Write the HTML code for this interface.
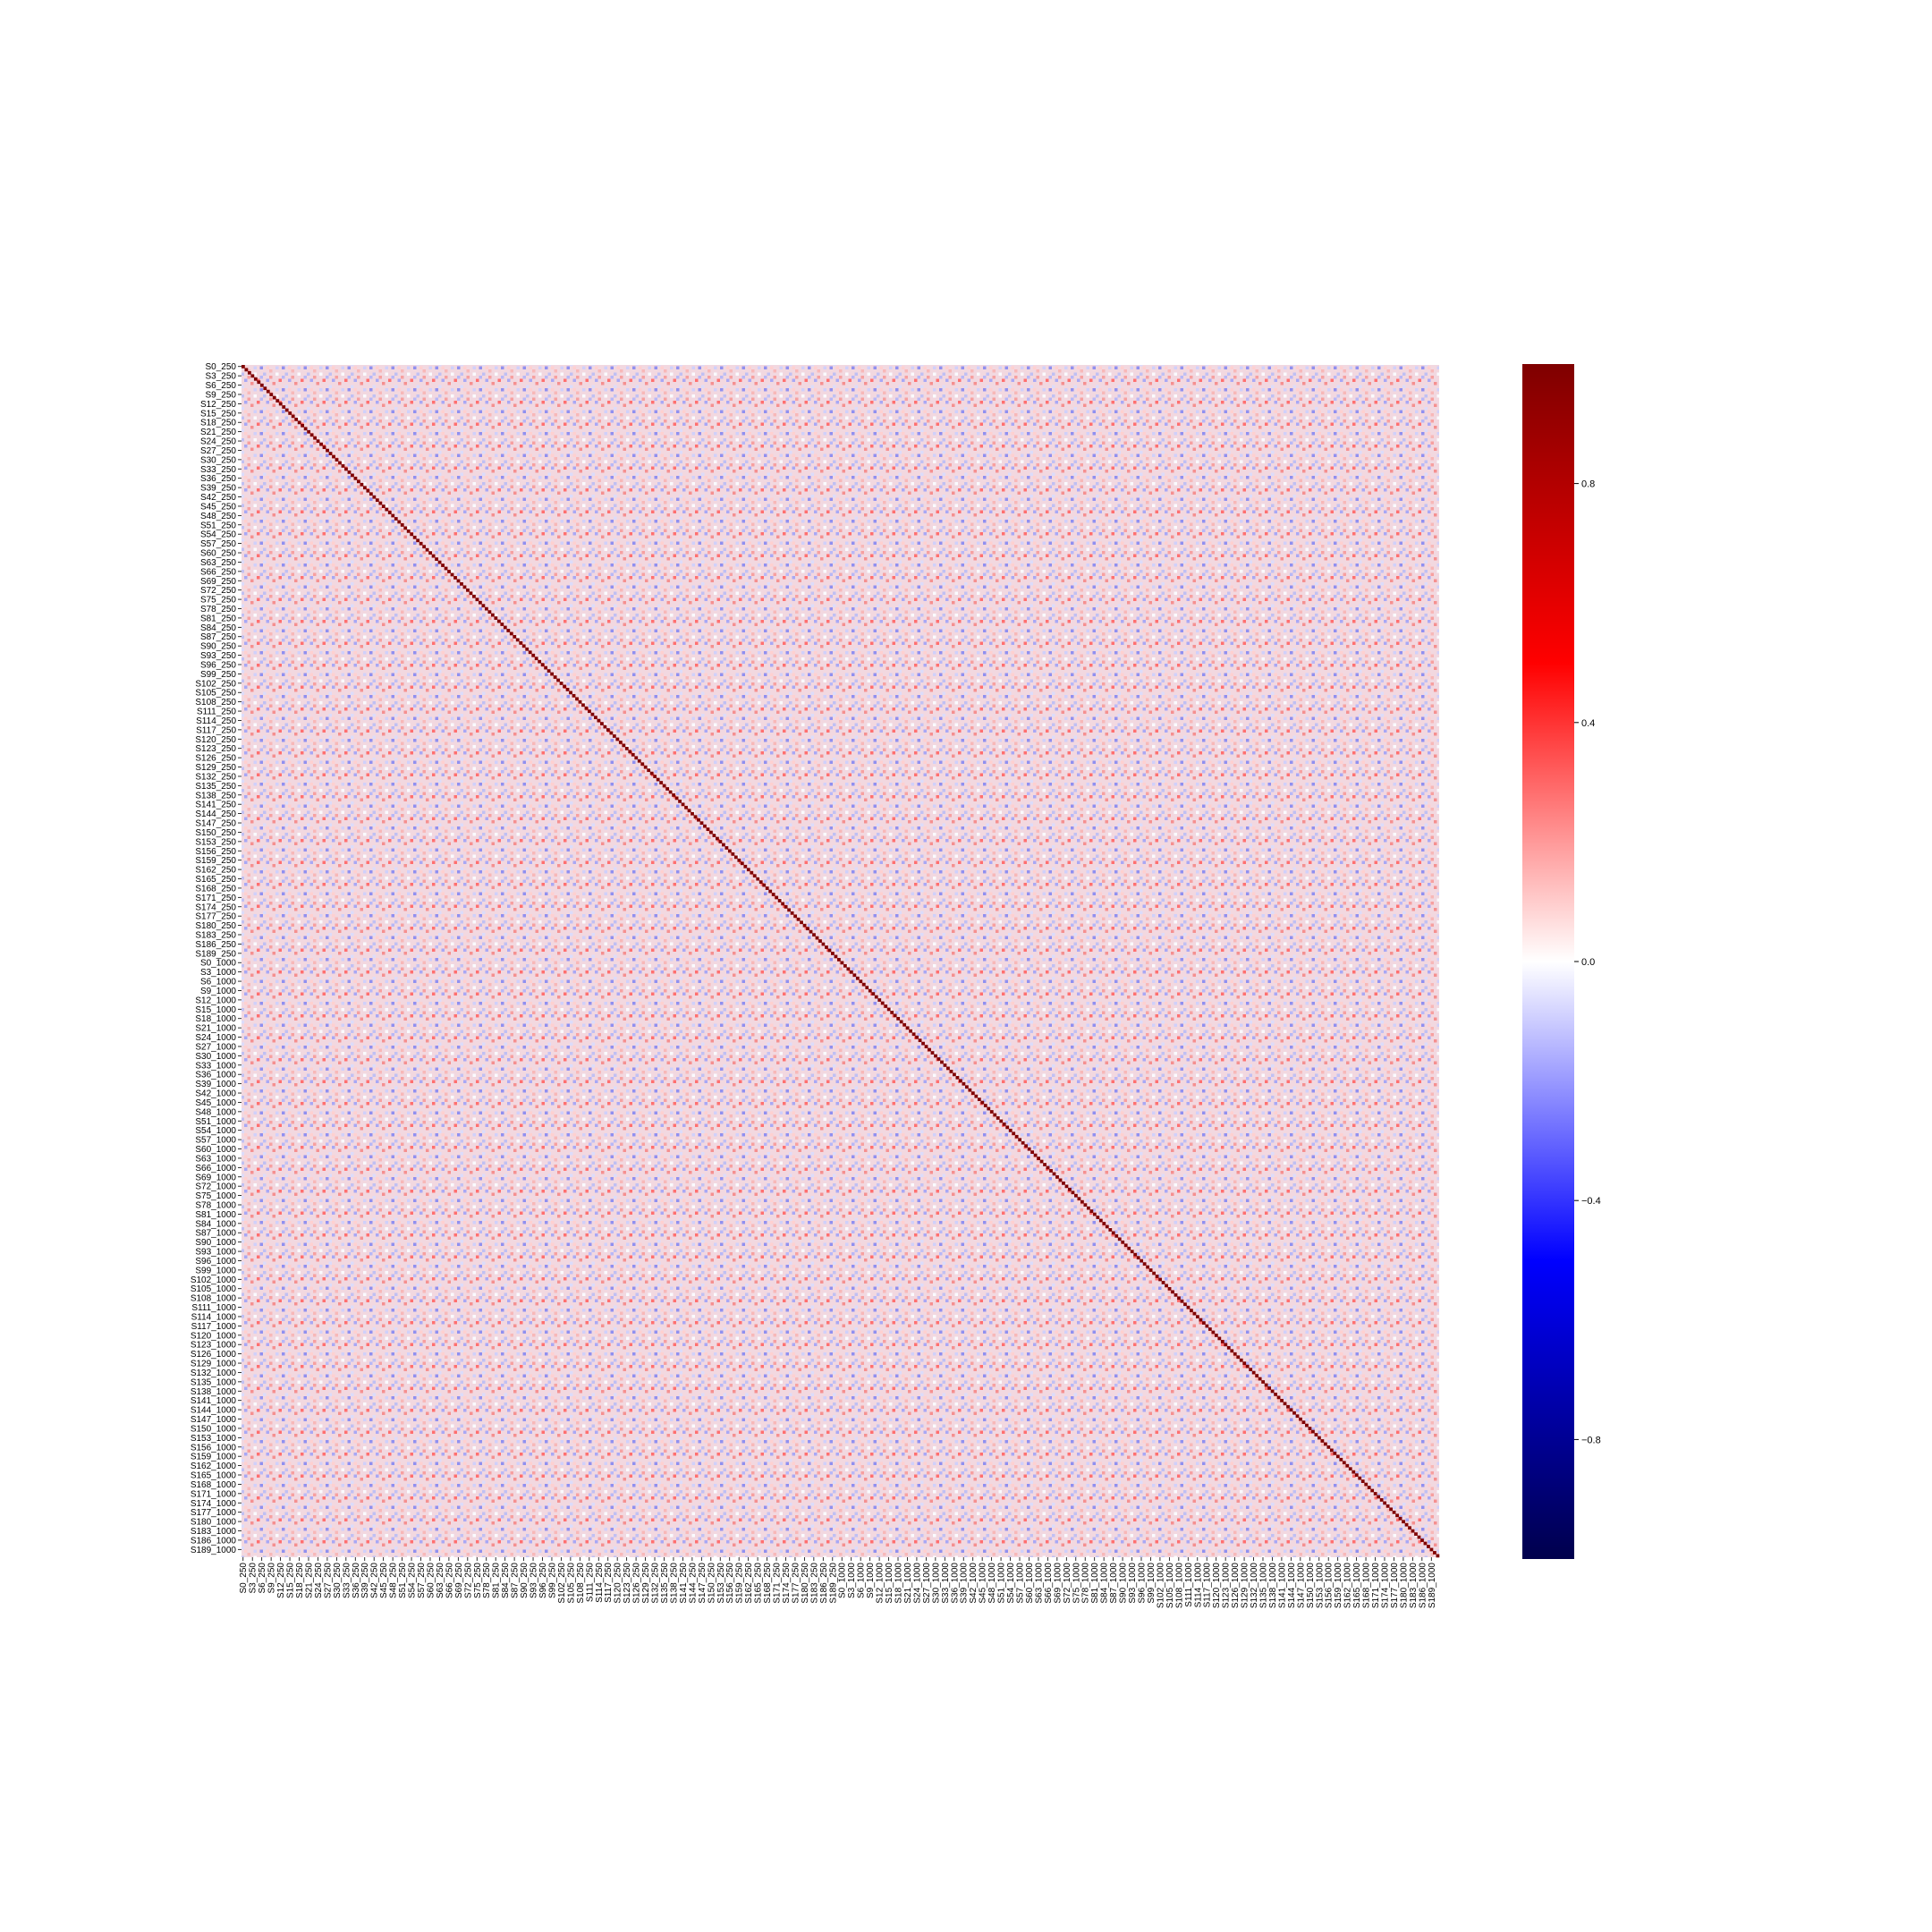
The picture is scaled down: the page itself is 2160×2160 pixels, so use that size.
<!DOCTYPE html>
<html><head><meta charset="utf-8"><style>
html,body{margin:0;padding:0;background:#fff;}
svg{display:block;font-family:"Liberation Sans","DejaVu Sans",sans-serif;}
</style></head><body>
<svg id="chart" width="2160" height="2160" viewBox="0 0 2160 2160" xmlns="http://www.w3.org/2000/svg">
<defs>
<linearGradient id="seis" x1="0" y1="0" x2="0" y2="1">
<stop offset="0" stop-color="#7f0000"/>
<stop offset="0.25" stop-color="#ff0000"/>
<stop offset="0.5" stop-color="#ffffff"/>
<stop offset="0.75" stop-color="#0000ff"/>
<stop offset="1" stop-color="#00004c"/>
</linearGradient>
<pattern id="noise" width="24.5" height="24.5" patternUnits="userSpaceOnUse">
<rect width="24.5" height="24.5" fill="#f2d8e0"/>
<rect x="0" y="0" width="3.5" height="3.5" fill="#c0c0f3"/>
<rect x="7" y="3.5" width="3.5" height="3.5" fill="#f7a0a0"/>
<rect x="3.5" y="7" width="3.5" height="3.5" fill="#a8a8f5"/>
<rect x="10.5" y="10.5" width="3.5" height="3.5" fill="#f59090"/>
<rect x="14" y="0" width="3.5" height="3.5" fill="#fbfbff"/>
<rect x="0" y="14" width="3.5" height="3.5" fill="#dcdcfb"/>
<rect x="17.5" y="7" width="3.5" height="3.5" fill="#ff7070"/>
<rect x="21" y="17.5" width="3.5" height="3.5" fill="#9090f0"/>
<rect x="7" y="21" width="3.5" height="3.5" fill="#f8b8b8"/>
<rect x="14" y="17.5" width="3.5" height="3.5" fill="#d0d0fa"/>
<rect x="3.5" y="17.5" width="3.5" height="3.5" fill="#ffd0d0"/>
<rect x="21" y="3.5" width="3.5" height="3.5" fill="#b8b8f7"/>
</pattern>
</defs>
<g id="heat"></g>
<g id="ylab"></g>
<g id="xlab"></g>
<g id="cbar"></g>
</svg>
<script>
const groups = ["250", "1000"];
const sampleIds = []; for (let i = 0; i < 192; i++) sampleIds.push(i);
const diagonalValue = 1.0;
const colorbarTicks = [0.8, 0.4, 0.0, -0.4, -0.8];
const colorbarTickLabels = ["0.8", "0.4", "0.0", "\u22120.4", "\u22120.8"];
const vmin = -1, vmax = 1;

const categories = [];
groups.forEach(g => sampleIds.forEach(i => categories.push("S" + i + "_" + g)));
const N = categories.length;
const X0 = 270, Y0 = 408, W = 1339, H = 1333;
const cw = W / N, ch = H / N;
const xs = i => X0 + i * cw, ys = i => Y0 + i * ch;
const NS = "http://www.w3.org/2000/svg";
function mk(tag, attrs, parent){const e=document.createElementNS(NS,tag);for(const k in attrs)e.setAttribute(k,attrs[k]);parent.appendChild(e);return e;}
function seismic(v){
  let t=(vmax-v)/(vmax-vmin);
  const st=[[0,[127,0,0]],[0.25,[255,0,0]],[0.5,[255,255,255]],[0.75,[0,0,255]],[1,[0,0,76]]];
  for(let k=0;k<st.length-1;k++){const [a,ca]=st[k],[b,cb]=st[k+1];if(t>=a&&t<=b){const f=(t-a)/(b-a);return "rgb("+ca.map((c,j)=>Math.round(c+(cb[j]-c)*f)).join(",")+")";}}
  return "#fff";
}
const heat=document.getElementById('heat');
const bg=mk('rect',{x:X0,y:Y0,width:W,height:H,fill:'url(#noise)'},heat);


for(let i=0;i<N;i++){
  const r=mk('rect',{x:xs(i),y:ys(i),width:cw+0.3,height:ch+0.3,fill:seismic(diagonalValue)},heat);
  
  
}
const yl=document.getElementById('ylab'), xl=document.getElementById('xlab');
for(let i=0;i<N;i+=3){
  const y=ys(i)+ch/2;
  mk('line',{x1:X0-4,x2:X0,y1:y,y2:y,stroke:'#000','stroke-width':0.8},yl);
  const t=mk('text',{x:X0-6,y:y+3.5,'font-size':10,'text-anchor':'end',fill:'#000'},yl);
  t.textContent=categories[i];
  
  
  const x=xs(i)+cw/2;
  mk('line',{x1:x,x2:x,y1:Y0+H,y2:Y0+H+4,stroke:'#000','stroke-width':0.8},xl);
  const tx=mk('text',{x:0,y:0,'font-size':10,'text-anchor':'end',fill:'#000',transform:'translate('+(x+3.5)+','+(Y0+H+6)+') rotate(-90)'},xl);
  tx.textContent=categories[i];
  
  
}
const cb=document.getElementById('cbar');
const CX=1702, CY=407, CW=58, CH=1336;
const cr=mk('rect',{x:CX,y:CY,width:CW,height:CH,fill:'url(#seis)'},cb);


const cy=v=>CY+(vmax-v)/(vmax-vmin)*CH;
colorbarTicks.forEach((v,k)=>{
  const y=cy(v);
  mk('line',{x1:CX+CW,x2:CX+CW+5,y1:y,y2:y,stroke:'#000','stroke-width':1},cb);
  const t=mk('text',{x:CX+CW+8,y:y+4,'font-size':11,fill:'#000'},cb);
  t.textContent=colorbarTickLabels[k];
  
  
});
</script>
</body></html>
